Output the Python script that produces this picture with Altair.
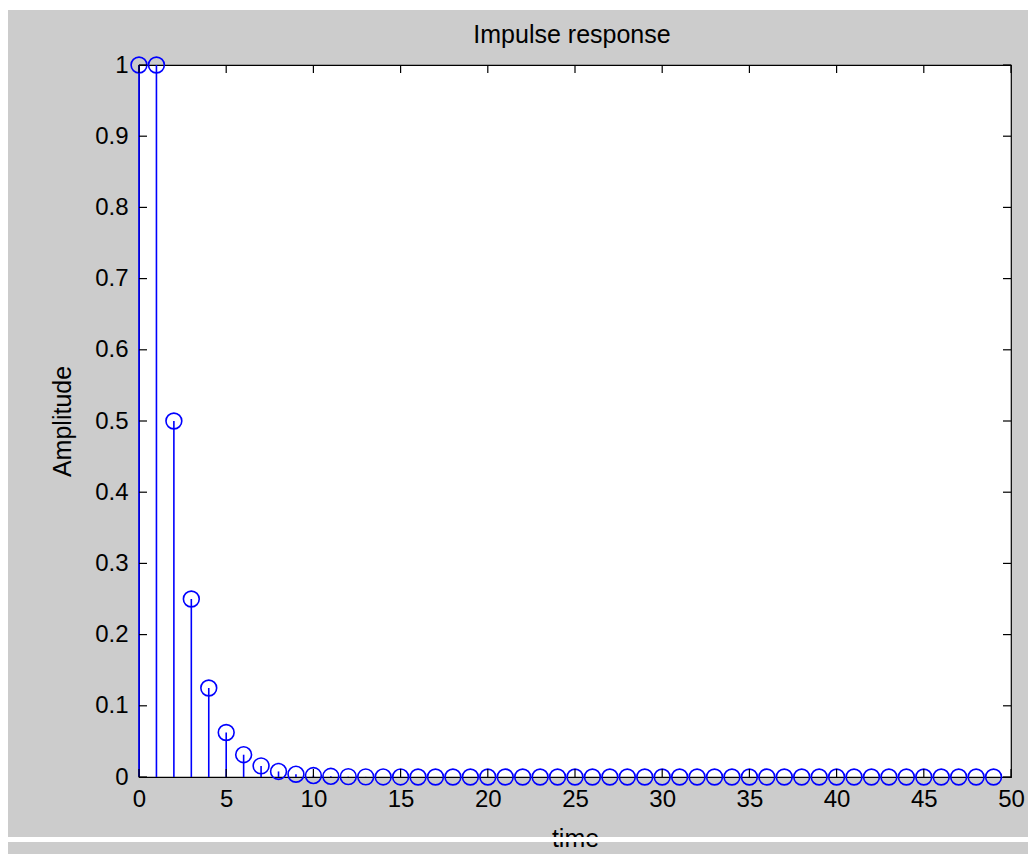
import altair as alt
import pandas as pd

# ---- data ----
sample_index = [0, 1, 2, 3, 4, 5, 6, 7, 8, 9,
                10, 11, 12, 13, 14, 15, 16, 17, 18, 19,
                20, 21, 22, 23, 24, 25, 26, 27, 28, 29,
                30, 31, 32, 33, 34, 35, 36, 37, 38, 39,
                40, 41, 42, 43, 44, 45, 46, 47, 48, 49]
amplitude = [1.0, 1.0, 0.5, 0.25, 0.125, 0.0625, 0.0313, 0.0156, 0.0078, 0.0039,
             0.002, 0.001, 0.0005, 0.0002, 0.0001, 0.0001, 0.0, 0.0, 0.0, 0.0,
             0.0, 0.0, 0.0, 0.0, 0.0, 0.0, 0.0, 0.0, 0.0, 0.0,
             0.0, 0.0, 0.0, 0.0, 0.0, 0.0, 0.0, 0.0, 0.0, 0.0,
             0.0, 0.0, 0.0, 0.0, 0.0, 0.0, 0.0, 0.0, 0.0, 0.0]
x_ticks = [0, 5, 10, 15, 20, 25, 30, 35, 40, 45, 50]
y_ticks = [0, 0.1, 0.2, 0.3, 0.4, 0.5, 0.6, 0.7, 0.8, 0.9, 1]
title_text = "Impulse response"
x_label = "time"
y_label = "Amplitude"

W, H = 872, 712
PAD_L, PAD_T, PAD_R, PAD_B = 139, 65, 17, 77
FONT = "Liberation Sans"
BLUE = "#0000ff"

df = pd.DataFrame({"n": sample_index, "amp": amplitude})
xt = pd.DataFrame({"n": x_ticks})
yt = pd.DataFrame({"amp": y_ticks})
one = pd.DataFrame({"label": [title_text]})

xscale = alt.Scale(domain=[0, 50], nice=False, zero=False)
yscale = alt.Scale(domain=[0, 1], nice=False, zero=False)

X_AXIS = alt.Axis(values=x_ticks, format="d", title=x_label,
                  labelPadding=10, titleX=W / 2, titleY=69,
                  titleBaseline="alphabetic", titleAlign="center")
Y_AXIS = alt.Axis(values=y_ticks, format="~g", title=y_label,
                  labelPadding=11, titleX=-77, titleY=H / 2,
                  titleAngle=270, titleBaseline="middle", titleAlign="center")

stems = alt.Chart(df).mark_rule(color=BLUE, strokeWidth=1.6).encode(
    x=alt.X("n:Q", scale=xscale, axis=X_AXIS),
    y=alt.Y("amp:Q", scale=yscale, axis=Y_AXIS),
    y2=alt.datum(0),
)

markers = alt.Chart(df).mark_point(
    shape="circle", filled=False, color=BLUE, size=250, strokeWidth=1.6, opacity=1
).encode(
    x=alt.X("n:Q", scale=xscale, axis=X_AXIS),
    y=alt.Y("amp:Q", scale=yscale, axis=Y_AXIS),
)

tick_style = dict(color="black", strokeWidth=1.2)
x_bottom = alt.Chart(xt).mark_rule(**tick_style).encode(
    x=alt.X("n:Q", scale=xscale, axis=X_AXIS), y=alt.value(H), y2=alt.value(H - 8))
x_top = alt.Chart(xt).mark_rule(**tick_style).encode(
    x=alt.X("n:Q", scale=xscale, axis=X_AXIS), y=alt.value(0), y2=alt.value(8))
y_left = alt.Chart(yt).mark_rule(**tick_style).encode(
    y=alt.Y("amp:Q", scale=yscale, axis=Y_AXIS), x=alt.value(0), x2=alt.value(8))
y_right = alt.Chart(yt).mark_rule(**tick_style).encode(
    y=alt.Y("amp:Q", scale=yscale, axis=Y_AXIS), x=alt.value(W - 8), x2=alt.value(W))

# page edges and the white band at the bottom
left_strip = alt.Chart(one).mark_rect(color="white").encode(
    x=alt.value(-PAD_L), x2=alt.value(-PAD_L + 8),
    y=alt.value(-PAD_T), y2=alt.value(H + PAD_B))
top_strip = alt.Chart(one).mark_rect(color="white").encode(
    x=alt.value(-PAD_L), x2=alt.value(W + PAD_R),
    y=alt.value(-PAD_T), y2=alt.value(-PAD_T + 10))
band = alt.Chart(one).mark_rect(color="white").encode(
    x=alt.value(-PAD_L + 8), x2=alt.value(W + PAD_R),
    y=alt.value(837 - PAD_T), y2=alt.value(842 - PAD_T))

title_mark = alt.Chart(one).mark_text(
    font=FONT, fontSize=25, color="black", align="center", baseline="alphabetic"
).encode(
    x=alt.value(W / 2 - 3), y=alt.value(-22), text="label:N")

chart = alt.layer(
    stems, markers, x_bottom, x_top, y_left, y_right,
    left_strip, top_strip, band, title_mark
).properties(
    width=W, height=H,
    autosize=alt.AutoSizeParams(type="none"),
    padding={"left": PAD_L, "top": PAD_T, "right": PAD_R, "bottom": PAD_B},
    background="#cccccc",
).configure_view(
    fill="white", stroke="black", strokeWidth=1.2
).configure_axis(
    labelFont=FONT, labelFontSize=24, labelColor="black",
    titleFont=FONT, titleFontSize=25, titleColor="black", titleFontWeight="normal",
    ticks=False, domain=False, grid=False, labelFlush=False, labelOverlap=False,
)

chart.save("out.html", embed_options={"renderer": "svg", "actions": False})
